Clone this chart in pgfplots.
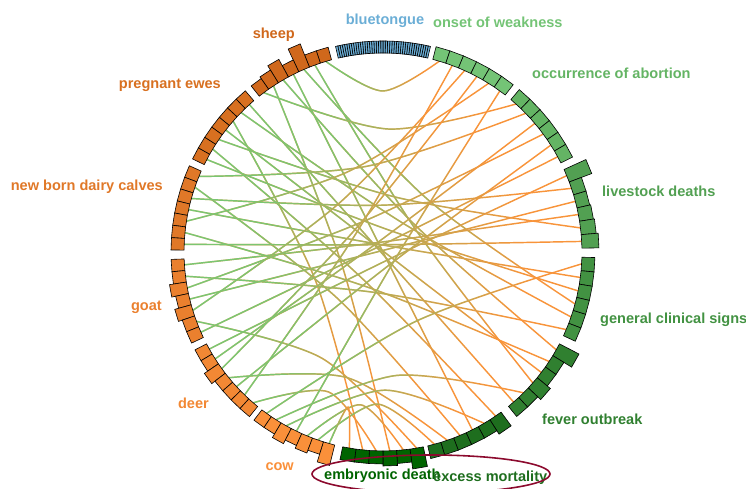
\documentclass[border=0pt]{standalone}
\usepackage{fontspec}
\setmainfont{Liberation Sans}
\usepackage{pgfplots}
\pgfplotsset{compat=1.18}
\usepgfplotslibrary{polar}
\usetikzlibrary{fadings}
\pgfdeclarehorizontalshading{gfshade}{100bp}{color(0bp)=(white); color(35bp)=(white); color(68bp)=(black); color(100bp)=(black)}
\pgfdeclarefading{greenfade}{\pgfuseshading{gfshade}}
\pgfdeclarehorizontalshading{ofshade}{100bp}{color(0bp)=(black); color(15bp)=(black); color(35bp)=(white); color(100bp)=(white)}
\pgfdeclarefading{orangefade}{\pgfuseshading{ofshade}}
\definecolor{chgr}{RGB}{122,198,114}
\definecolor{chor}{RGB}{248,148,58}
\definecolor{csheep}{RGB}{208,104,28}
\definecolor{cewes}{RGB}{216,112,32}
\definecolor{ccalves}{RGB}{224,120,40}
\definecolor{cgoat}{RGB}{234,128,46}
\definecolor{cdeer}{RGB}{242,136,52}
\definecolor{ccow}{RGB}{250,144,58}
\definecolor{conset}{RGB}{116,196,118}
\definecolor{cabort}{RGB}{100,180,100}
\definecolor{clive}{RGB}{82,160,82}
\definecolor{cclin}{RGB}{66,146,66}
\definecolor{cfever}{RGB}{48,128,48}
\definecolor{cexcess}{RGB}{30,110,30}
\definecolor{cembryo}{RGB}{0,100,0}
\definecolor{cblue}{RGB}{107,174,214}
\definecolor{elred}{RGB}{140,10,46}
\newcommand{\lab}{\bfseries\fontsize{14.6}{17}\selectfont}
\newcommand{\bx}[4]{\addplot[draw=black, line width=0.6pt, fill=#4] coordinates {(#1,199) (#2,199) (#2,#3) (#1,#3)} --cycle;}
\newcommand{\ch}[4]{\addplot[chord] coordinates {(#1,199) (#2,#3) (#4,199)};}
\pgfplotsset{chord/.style={smooth, draw=chor, line width=1.45pt, path fading=orangefade, postaction={draw=chgr, line width=1.45pt, path fading=greenfade}}}
\begin{document}
\begin{tikzpicture}
\begin{polaraxis}[hide axis, scale only axis, width=480bp, height=480bp,
  xmin=0, xmax=360, ymin=0, ymax=240, clip=false, no markers]
% chords: left angle, mid angle, mid radius, right angle
\ch{106.7}{90.1}{161}{73.55}
\ch{110.0}{34.4}{39.6}{-41.15}
\ch{113.4}{49.1}{69.0}{-15.15}
\ch{116.7}{26.7}{0}{-63.35}
\ch{120.1}{45.3}{41.7}{-29.45}
\ch{123.4}{197.7}{43.1}{-88.05}
\ch{126.8}{87.4}{123.1}{48.05}
\ch{132.2}{221.6}{1.6}{-48.95}
\ch{135.5}{58.2}{35.0}{-19.05}
\ch{138.9}{201.5}{73.3}{-95.85}
\ch{142.2}{52.5}{0.8}{-37.25}
\ch{145.6}{76.3}{56.3}{6.95}
\ch{148.9}{226.7}{33.6}{-55.55}
\ch{152.3}{70.5}{22.7}{-11.25}
\ch{157.7}{100.9}{87.2}{44.15}
\ch{161.0}{226.9}{65.0}{-67.25}
\ch{164.4}{91.5}{46.8}{18.65}
\ch{167.7}{80.2}{6.9}{-7.35}
\ch{171.1}{114.5}{87.6}{57.95}
\ch{174.4}{250.5}{38.2}{-33.35}
\ch{177.8}{90.4}{7.3}{3.05}
\ch{183.7}{97.3}{10.0}{10.85}
\ch{187.0}{262.0}{41.2}{-22.95}
\ch{190.4}{113.4}{35.8}{36.35}
\ch{193.7}{104.2}{1.5}{14.75}
\ch{197.1}{131.4}{65.5}{65.75}
\ch{200.4}{240.1}{122.5}{-80.25}
\ch{203.8}{116.2}{6.6}{28.55}
\ch{209.2}{295.9}{9.2}{22.55}
\ch{212.5}{126.4}{10.8}{40.25}
\ch{215.9}{138.9}{35.8}{61.85}
\ch{219.2}{254.0}{130.7}{-71.15}
\ch{222.6}{307.5}{14.2}{32.45}
\ch{225.9}{147.8}{32.8}{69.65}
\ch{229.3}{248.7}{150.2}{-91.95}
\ch{234.2}{295.4}{76.8}{-3.45}
\ch{237.5}{276.2}{124.2}{-45.05}
\ch{240.9}{270.7}{138.2}{-59.45}
\ch{244.2}{329.1}{14.1}{54.05}
\ch{247.6}{261.7}{154.4}{-84.15}
\ch{250.9}{267.9}{152.2}{-75.05}
\ch{254.3}{257.3}{159.0}{-99.75}
% sheep
\bx{105}{108.35}{212}{csheep}
\bx{108.35}{111.7}{212}{csheep}
\bx{111.7}{115.05}{224}{csheep}
\bx{115.05}{118.4}{212}{csheep}
\bx{118.4}{121.75}{219}{csheep}
\bx{121.75}{125.1}{214}{csheep}
\bx{125.1}{128.45}{212}{csheep}
% pregnant ewes
\bx{130.5}{133.85}{212}{cewes}
\bx{133.85}{137.2}{212}{cewes}
\bx{137.2}{140.55}{212}{cewes}
\bx{140.55}{143.9}{212}{cewes}
\bx{143.9}{147.25}{212}{cewes}
\bx{147.25}{150.6}{212}{cewes}
\bx{150.6}{153.95}{212}{cewes}
% new born dairy calves
\bx{156}{159.35}{212}{ccalves}
\bx{159.35}{162.7}{212}{ccalves}
\bx{162.7}{166.05}{212}{ccalves}
\bx{166.05}{169.4}{212}{ccalves}
\bx{169.4}{172.75}{212}{ccalves}
\bx{172.75}{176.1}{212}{ccalves}
\bx{176.1}{179.45}{212}{ccalves}
% goat
\bx{182}{185.35}{212}{cgoat}
\bx{185.35}{188.7}{212}{cgoat}
\bx{188.7}{192.05}{216}{cgoat}
\bx{192.05}{195.4}{212}{cgoat}
\bx{195.4}{198.75}{216}{cgoat}
\bx{198.75}{202.1}{212}{cgoat}
\bx{202.1}{205.45}{212}{cgoat}
% deer
\bx{207.5}{210.85}{212}{cdeer}
\bx{210.85}{214.2}{212}{cdeer}
\bx{214.2}{217.55}{216}{cdeer}
\bx{217.55}{220.9}{212}{cdeer}
\bx{220.9}{224.25}{212}{cdeer}
\bx{224.25}{227.6}{212}{cdeer}
\bx{227.6}{230.95}{212}{cdeer}
% cow
\bx{232.5}{235.85}{212}{ccow}
\bx{235.85}{239.2}{212}{ccow}
\bx{239.2}{242.55}{216}{ccow}
\bx{242.55}{245.9}{212}{ccow}
\bx{245.9}{249.25}{215}{ccow}
\bx{249.25}{252.6}{212}{ccow}
\bx{252.6}{255.95}{220}{ccow}
% onset of weakness
\bx{75.5}{71.6}{212}{conset}
\bx{71.6}{67.7}{212}{conset}
\bx{67.7}{63.8}{212}{conset}
\bx{63.8}{59.9}{212}{conset}
\bx{59.9}{56.0}{212}{conset}
\bx{56.0}{52.1}{212}{conset}
% occurrence of abortion
\bx{50}{46.1}{212}{cabort}
\bx{46.1}{42.2}{212}{cabort}
\bx{42.2}{38.3}{212}{cabort}
\bx{38.3}{34.4}{212}{cabort}
\bx{34.4}{30.5}{212}{cabort}
\bx{30.5}{26.6}{212}{cabort}
% livestock deaths
\bx{24.5}{20.6}{223}{clive}
\bx{20.6}{16.7}{212}{clive}
\bx{16.7}{12.8}{212}{clive}
\bx{12.8}{8.9}{213}{clive}
\bx{8.9}{5.0}{214}{clive}
\bx{5.0}{1.1}{216}{clive}
% general clinical signs
\bx{-1.5}{-5.4}{212}{cclin}
\bx{-5.4}{-9.3}{212}{cclin}
\bx{-9.3}{-13.2}{212}{cclin}
\bx{-13.2}{-17.1}{212}{cclin}
\bx{-17.1}{-21.0}{212}{cclin}
\bx{-21.0}{-24.9}{212}{cclin}
% fever outbreak
\bx{-27.5}{-31.4}{221}{cfever}
\bx{-31.4}{-35.3}{212}{cfever}
\bx{-35.3}{-39.2}{212}{cfever}
\bx{-39.2}{-43.1}{216}{cfever}
\bx{-43.1}{-47.0}{212}{cfever}
\bx{-47.0}{-50.9}{212}{cfever}
% excess mortality
\bx{-53.6}{-57.5}{216}{cexcess}
\bx{-57.5}{-61.4}{212}{cexcess}
\bx{-61.4}{-65.3}{212}{cexcess}
\bx{-65.3}{-69.2}{212}{cexcess}
\bx{-69.2}{-73.1}{212}{cexcess}
\bx{-73.1}{-77.0}{212}{cexcess}
% embryonic death
\bx{-78.3}{-82.2}{219}{cembryo}
\bx{-82.2}{-86.1}{212}{cembryo}
\bx{-86.1}{-90.0}{214}{cembryo}
\bx{-90.0}{-93.9}{212}{cembryo}
\bx{-93.9}{-97.8}{212}{cembryo}
\bx{-97.8}{-101.7}{212}{cembryo}
% bluetongue
\bx{77.00}{77.62}{211}{cblue}
\bx{77.62}{78.24}{211}{cblue}
\bx{78.24}{78.86}{211}{cblue}
\bx{78.86}{79.48}{211}{cblue}
\bx{79.48}{80.10}{211}{cblue}
\bx{80.10}{80.71}{211}{cblue}
\bx{80.71}{81.33}{211}{cblue}
\bx{81.33}{81.95}{211}{cblue}
\bx{81.95}{82.57}{211}{cblue}
\bx{82.57}{83.19}{211}{cblue}
\bx{83.19}{83.81}{211}{cblue}
\bx{83.81}{84.43}{211}{cblue}
\bx{84.43}{85.05}{211}{cblue}
\bx{85.05}{85.67}{211}{cblue}
\bx{85.67}{86.29}{211}{cblue}
\bx{86.29}{86.90}{211}{cblue}
\bx{86.90}{87.52}{211}{cblue}
\bx{87.52}{88.14}{211}{cblue}
\bx{88.14}{88.76}{211}{cblue}
\bx{88.76}{89.38}{211}{cblue}
\bx{89.38}{90.00}{211}{cblue}
\bx{90.00}{90.62}{211}{cblue}
\bx{90.62}{91.24}{211}{cblue}
\bx{91.24}{91.86}{211}{cblue}
\bx{91.86}{92.48}{211}{cblue}
\bx{92.48}{93.10}{211}{cblue}
\bx{93.10}{93.71}{211}{cblue}
\bx{93.71}{94.33}{211}{cblue}
\bx{94.33}{94.95}{211}{cblue}
\bx{94.95}{95.57}{211}{cblue}
\bx{95.57}{96.19}{211}{cblue}
\bx{96.19}{96.81}{211}{cblue}
\bx{96.81}{97.43}{211}{cblue}
\bx{97.43}{98.05}{211}{cblue}
\bx{98.05}{98.67}{211}{cblue}
\bx{98.67}{99.29}{211}{cblue}
\bx{99.29}{99.90}{211}{cblue}
\bx{99.90}{100.52}{211}{cblue}
\bx{100.52}{101.14}{211}{cblue}
\bx{101.14}{101.76}{211}{cblue}
\bx{101.76}{102.38}{211}{cblue}
\bx{102.38}{103.00}{211}{cblue}
\coordinate (c) at (axis cs:0,0);
\end{polaraxis}
% labels
\node[inner sep=0, text=cblue, font=\lab] at ([shift={(2bp,231bp)}]c) {bluetongue};
\node[anchor=west, inner sep=0, text=conset, font=\lab] at ([shift={(50bp,230bp)}]c) {onset of weakness};
\node[anchor=west, inner sep=0, text=cabort, font=\lab] at ([shift={(149bp,179bp)}]c) {occurrence of abortion};
\node[anchor=west, inner sep=0, text=clive, font=\lab] at ([shift={(219bp,61bp)}]c) {livestock deaths};
\node[anchor=west, inner sep=0, text=cclin, font=\lab] at ([shift={(217bp,-68bp)}]c) {general clinical signs};
\node[anchor=west, inner sep=0, text=cfever, font=\lab] at ([shift={(159bp,-167bp)}]c) {fever outbreak};
\node[anchor=west, inner sep=0, text=cembryo, font=\lab] at ([shift={(-59bp,-224bp)}]c) {embryonic death};
\node[anchor=west, inner sep=0, text=cexcess, font=\lab] at ([shift={(50bp,-226bp)}]c) {excess mortality};
\node[anchor=east, inner sep=0, text=csheep, font=\lab] at ([shift={(-88bp,217bp)}]c) {sheep};
\node[anchor=east, inner sep=0, text=cewes, font=\lab] at ([shift={(-162bp,167bp)}]c) {pregnant ewes};
\node[anchor=east, inner sep=0, text=ccalves, font=\lab] at ([shift={(-220bp,65bp)}]c) {new born dairy calves};
\node[anchor=east, inner sep=0, text=cgoat, font=\lab] at ([shift={(-221bp,-55bp)}]c) {goat};
\node[anchor=east, inner sep=0, text=cdeer, font=\lab] at ([shift={(-174bp,-151bp)}]c) {deer};
\node[anchor=east, inner sep=0, text=ccow, font=\lab] at ([shift={(-89bp,-215bp)}]c) {cow};
\draw[elred, line width=1.6pt] ([shift={(48bp,-222bp)}]c) ellipse [x radius=119bp, y radius=19bp];
\pgfresetboundingbox
\path[use as bounding box] ([shift={(-383bp,-237bp)}]c) rectangle ([shift={(363bp,252bp)}]c);
\end{tikzpicture}
\end{document}
